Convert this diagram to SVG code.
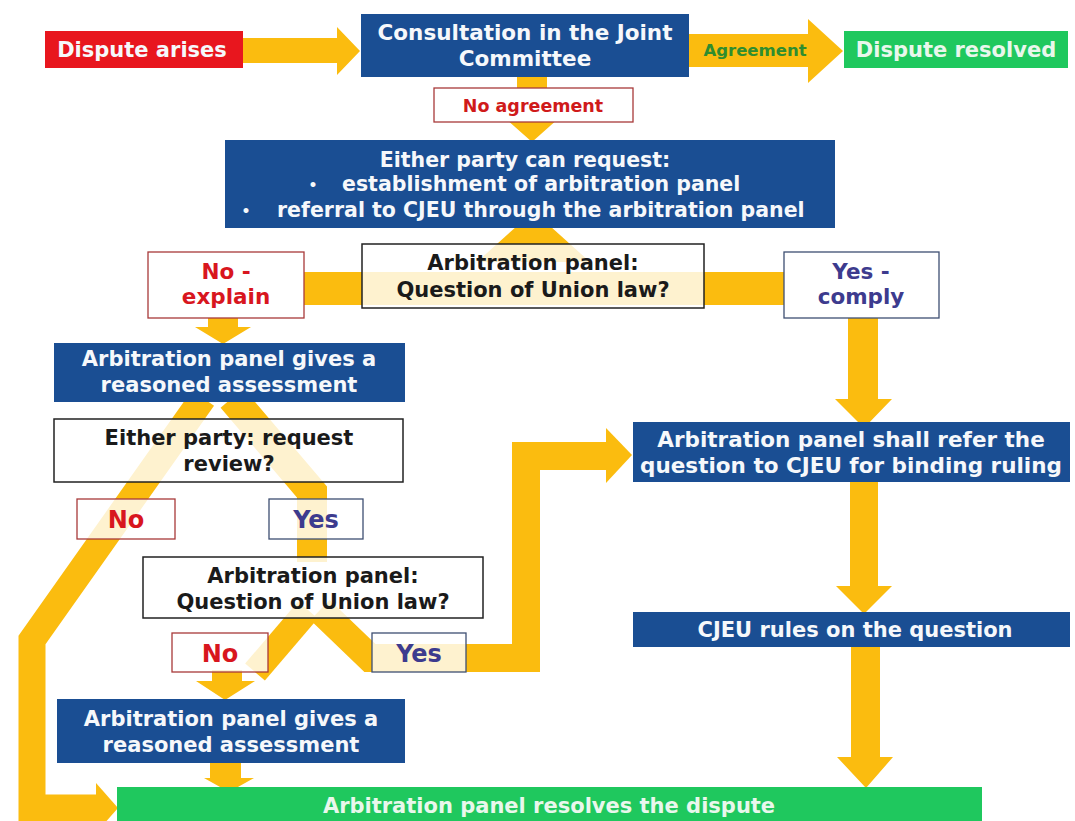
<svg xmlns="http://www.w3.org/2000/svg" width="1075" height="821" viewBox="0 0 1075 821">
<style>
  text { font-family: "DejaVu Sans", Verdana, "Liberation Sans", sans-serif; font-weight: bold; text-anchor: middle; }
  .blue { fill: #1a4e93; }
  .wt { fill: #f6f8fb; font-size: 21px; }
  .bk { fill: #1a1a1a; font-size: 21px; }
  .rd { fill: #d8161e; font-size: 21.5px; }
  .pu { fill: #3d3b8e; font-size: 21.5px; }
  .lbl { font-size: 24px; }
  .lg { fill: #e9f7ec; font-size: 21px; }
  .q { fill: #ffffff; fill-opacity: 0.8; stroke: #222; stroke-width: 1.5; }
  .nob { fill: #ffffff; fill-opacity: 0.8; stroke: #a83a3a; stroke-width: 1.3; }
  .yesb { fill: #ffffff; fill-opacity: 0.8; stroke: #3e4f72; stroke-width: 1.3; }
  .y { fill: #fbbc0f; }
  .ys { fill: none; stroke: #fbbc0f; stroke-linejoin: miter; }
</style>
<rect width="1075" height="821" fill="#ffffff"/>
<g id="connectors">
  <polygon class="y" points="243,38 337,38 337,27 360,51 337,75 337,63 243,63"/>
  <polygon class="y" points="689,34 808,34 808,19 843,51 808,83 808,67 689,67"/>
  <polygon class="y" points="517,77 547,77 547,118 559,118 532,142 505,118 517,118"/>
  <path class="y" d="M517,226 H550 L590,262 H477 Z"/>
  <rect class="y" x="300" y="272" width="490" height="33"/>
  <polygon class="y" points="208,316 238,316 238,327 251,327 223,344 195,327 208,327"/>
  <polygon class="y" points="848,316 878,316 878,399 892,399 864,428 835,399 848,399"/>
  <polyline class="ys" stroke-width="27" points="203,398 32,640 32,808 98,808"/>
  <polygon class="y" points="96,783 118,808 96,833"/>
  <polyline class="ys" stroke-width="30" points="232,398 312,492 312,562"/>
  <polyline class="ys" stroke-width="26" points="308,610 255,672"/>
  <polyline class="ys" stroke-width="28" points="320,610 370,658 526,658 526,456 608,456"/>
  <polygon class="y" points="606,428 632,455 606,483"/>
  <polygon class="y" points="212,670 242,670 242,681 255,681 225,700 196,681 212,681"/>
  <polygon class="y" points="210,760 241,760 241,778 254,778 229,792 204,778 210,778"/>
  <polygon class="y" points="850,480 878,480 878,586 892,586 864,614 836,586 850,586"/>
  <polygon class="y" points="851,645 880,645 880,757 893,757 866,788 837,757 851,757"/>
</g>
<g id="dispute-arises">
  <rect x="45" y="31" width="198" height="37" fill="#e8161e"/>
  <text class="wt" x="142" y="57">Dispute arises</text>
</g>
<g id="consultation">
  <rect class="blue" x="361" y="14" width="328" height="63"/>
  <text class="wt" x="525" y="40" style="font-size:21.5px">Consultation in the Joint</text>
  <text class="wt" x="525" y="66" style="font-size:21.5px">Committee</text>
</g>
<g id="agreement-label">
  <text x="755" y="56" style="font-size:16.5px; fill:#2f8d2f;">Agreement</text>
</g>
<g id="dispute-resolved">
  <rect x="844" y="31" width="224" height="37" fill="#1fc85e"/>
  <text class="lg" x="956" y="57">Dispute resolved</text>
</g>
<g id="no-agreement">
  <rect class="nob" x="434" y="88" width="199" height="34" style="fill-opacity:1"/>
  <text x="533" y="112" style="font-size:17.5px; fill:#d01a1a;">No agreement</text>
</g>
<g id="either-party">
  <rect class="blue" x="225" y="140" width="610" height="88"/>
  <text class="wt" x="525" y="167" style="font-size:20.5px">Either party can request:</text>
  <text class="wt" x="313" y="190" style="font-size:14px">•</text>
  <text class="wt" x="342" y="191" style="text-anchor:start; font-size:20.5px">establishment of arbitration panel</text>
  <text class="wt" x="246" y="216" style="font-size:14px">•</text>
  <text class="wt" x="277" y="217" style="text-anchor:start; font-size:20.5px">referral to CJEU through the arbitration panel</text>
</g>
<g id="no-explain">
  <rect class="nob" x="148" y="252" width="156" height="66" style="fill-opacity:1"/>
  <text class="rd" x="226" y="279">No -</text>
  <text class="rd" x="226" y="304">explain</text>
</g>
<g id="question-1">
  <rect class="q" x="362" y="244" width="342" height="64"/>
  <text class="bk" x="533" y="270">Arbitration panel:</text>
  <text class="bk" x="533" y="297">Question of Union law?</text>
</g>
<g id="yes-comply">
  <rect class="yesb" x="784" y="252" width="155" height="66" style="fill-opacity:1"/>
  <text class="pu" x="861" y="279">Yes -</text>
  <text class="pu" x="861" y="304">comply</text>
</g>
<g id="assessment-1">
  <rect class="blue" x="54" y="343" width="351" height="59"/>
  <text class="wt" x="229" y="366">Arbitration panel gives a</text>
  <text class="wt" x="229" y="392">reasoned assessment</text>
</g>
<g id="request-review">
  <rect class="q" x="54" y="419" width="349" height="63"/>
  <text class="bk" x="229" y="445">Either party: request</text>
  <text class="bk" x="229" y="471">review?</text>
</g>
<g id="no-1">
  <rect class="nob" x="77" y="499" width="98" height="40"/>
  <text class="rd lbl" x="126" y="528">No</text>
</g>
<g id="yes-1">
  <rect class="yesb" x="269" y="499" width="94" height="40"/>
  <text class="pu lbl" x="316" y="528">Yes</text>
</g>
<g id="question-2">
  <rect class="q" x="143" y="557" width="340" height="61"/>
  <text class="bk" x="313" y="583">Arbitration panel:</text>
  <text class="bk" x="313" y="609">Question of Union law?</text>
</g>
<g id="no-2">
  <rect class="nob" x="172" y="633" width="96" height="39"/>
  <text class="rd lbl" x="220" y="662">No</text>
</g>
<g id="yes-2">
  <rect class="yesb" x="372" y="633" width="94" height="39"/>
  <text class="pu lbl" x="419" y="662">Yes</text>
</g>
<g id="assessment-2">
  <rect class="blue" x="57" y="699" width="348" height="64"/>
  <text class="wt" x="231" y="726">Arbitration panel gives a</text>
  <text class="wt" x="231" y="752">reasoned assessment</text>
</g>
<g id="refer-cjeu">
  <rect class="blue" x="633" y="422" width="437" height="60"/>
  <text class="wt" x="851" y="447" style="font-size:21.5px">Arbitration panel shall refer the</text>
  <text class="wt" x="851" y="473" style="font-size:21.5px">question to CJEU for binding ruling</text>
</g>
<g id="cjeu-rules">
  <rect class="blue" x="633" y="612" width="437" height="35"/>
  <text class="wt" x="855" y="637">CJEU rules on the question</text>
</g>
<g id="resolves">
  <rect x="117" y="787" width="865" height="40" fill="#1fc85e"/>
  <text class="lg" x="549" y="813">Arbitration panel resolves the dispute</text>
</g>
</svg>
